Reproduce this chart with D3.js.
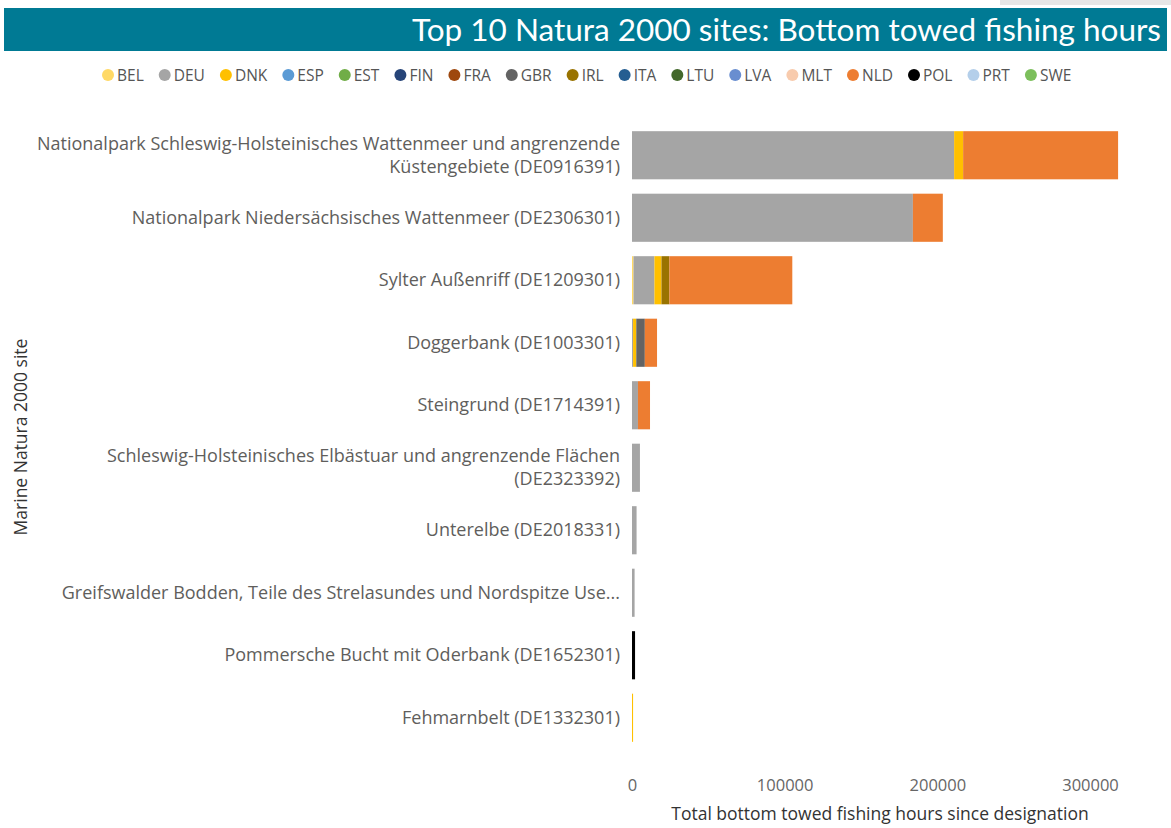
<!DOCTYPE html>
<html><head><meta charset="utf-8">
<script src="https://cdn.jsdelivr.net/npm/d3@7/dist/d3.min.js"></script>
<style>
body{margin:0;background:#fff;}
svg{display:block;font-family:"Open Sans",sans-serif;}
</style></head>
<body><svg id="c" width="1171" height="828"></svg>
<script>
const sites = [
  ["Nationalpark Schleswig-Holsteinisches Wattenmeer und angrenzende","Küstengebiete (DE0916391)"],
  ["Nationalpark Niedersächsisches Wattenmeer (DE2306301)"],
  ["Sylter Außenriff (DE1209301)"],
  ["Doggerbank (DE1003301)"],
  ["Steingrund (DE1714391)"],
  ["Schleswig-Holsteinisches Elbästuar und angrenzende Flächen","(DE2323392)"],
  ["Unterelbe (DE2018331)"],
  ["Greifswalder Bodden, Teile des Strelasundes und Nordspitze Use..."],
  ["Pommersche Bucht mit Oderbank (DE1652301)"],
  ["Fehmarnbelt (DE1332301)"]
];
const countries = ["BEL","DEU","DNK","ESP","EST","FIN","FRA","GBR","IRL","ITA","LTU","LVA","MLT","NLD","POL","PRT","SWE"];
const colors = ["#FFD966","#A5A5A5","#FFC000","#5B9BD5","#70AD47","#264478","#9E480E","#636363","#997300","#255E91","#43682B","#698ED0","#F8CBAD","#ED7D31","#000000","#B4CFEA","#7CBF5C"];
// fishing hours per site (same order as sites)
const BEL = [0,0,1000,0,0,0,0,0,0,0];
const DEU = [211000,184000,13700,700,3900,5200,3000,1700,0,0];
const DNK = [5900,0,4600,2100,0,0,0,0,0,700];
const GBR = [0,0,0,5600,0,0,0,0,0,0];
const IRL = [0,0,5200,0,0,0,0,0,0,0];
const NLD = [101500,19600,80500,8000,7900,0,0,0,0,0];
const POL = [0,0,0,0,0,0,0,0,2000,0];
const xTicks = [0,100000,200000,300000];

const seriesValues = {BEL,DEU,DNK,GBR,IRL,NLD,POL};
const rows = sites.map((s,i)=>{
  const r = {site:i};
  countries.forEach(c=>{ r[c] = seriesValues[c] ? seriesValues[c][i] : 0; });
  return r;
});

const svg = d3.select("#c");
const color = d3.scaleOrdinal().domain(countries).range(colors);

// title bar
svg.append("rect").attr("x",1000).attr("y",0).attr("width",171).attr("height",5).attr("fill","#e6e6e6");
svg.append("rect").attr("x",4).attr("y",8).attr("width",1163).attr("height",43).attr("fill","#007A94");
svg.append("text").attr("x",1161).attr("y",41).attr("text-anchor","end")
  .attr("fill","#fff").style("font-family","Lato, sans-serif").style("font-size","31.5px")
  .text("Top 10 Natura 2000 sites: Bottom towed fishing hours");

// legend
const lg = svg.append("g").attr("transform","translate(0,75)");
let lx = 108;
countries.forEach(c=>{
  const g = lg.append("g");
  g.append("circle").attr("cx",lx).attr("cy",0).attr("r",6).attr("fill",color(c));
  const t = g.append("text").attr("x",lx+9).attr("y",5.5).attr("fill","#555").style("font-size","15.5px").text(c);
  lx += 9 + t.node().getComputedTextLength() + 21;
});

// scales
const x = d3.scaleLinear().domain([0,300000]).range([632,1090]);
const y = d3.scaleBand().domain(sites.map((d,i)=>i)).range([124,749]).paddingInner(0.23).paddingOuter(0.115);

const stack = d3.stack().keys(countries)(rows);
svg.append("g").selectAll("g").data(stack).join("g").attr("fill",d=>color(d.key))
  .selectAll("rect").data(d=>d).join("rect")
  .attr("x",d=>x(d[0])).attr("width",d=>Math.max(0,x(d[1])-x(d[0])))
  .attr("y",(d,i)=>y(i)).attr("height",y.bandwidth());

// y labels
const yl = svg.append("g");
sites.forEach((s,i)=>{
  const cy = y(i)+y.bandwidth()/2;
  const n = s.length;
  s.forEach((line,j)=>{
    yl.append("text").attr("x",620).attr("y",cy + (j-(n-1)/2)*23 + 6)
      .attr("text-anchor","end").attr("fill","#605E5C").style("font-size","18px").text(line);
  });
});

// x axis
const xa = svg.append("g").attr("transform","translate(0,771)")
  .call(d3.axisBottom(x).tickValues(xTicks).tickFormat(d3.format("d")).tickSize(0).tickPadding(8));
xa.select(".domain").remove();
xa.selectAll("text").attr("fill","#666").style("font-size","16.5px").style("font-family","Open Sans, sans-serif");

svg.append("text").attr("x",880).attr("y",820).attr("text-anchor","middle").attr("fill","#333")
  .style("font-size","17.5px").text("Total bottom towed fishing hours since designation");
svg.append("text").attr("transform","translate(27,437) rotate(-90)").attr("text-anchor","middle").attr("fill","#333")
  .style("font-size","17.5px").text("Marine Natura 2000 site");
</script></body></html>
